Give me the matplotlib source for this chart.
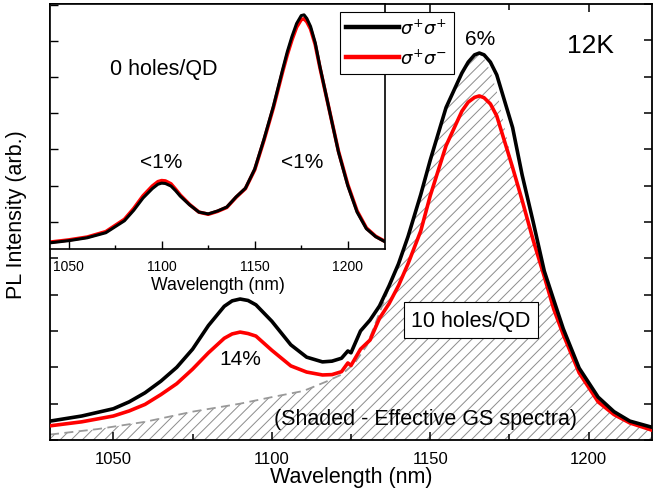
import numpy as np
import matplotlib
matplotlib.use("Agg")
import matplotlib.pyplot as plt
from matplotlib.ticker import MultipleLocator, NullFormatter

plt.rcParams['font.family'] = ['Liberation Sans', 'DejaVu Sans']
plt.rcParams['hatch.linewidth'] = 0.7
plt.rcParams['hatch.color'] = '#8c8c8c'

# main panel: 10 holes/QD
main_wl = [1030, 1040, 1050, 1055, 1060, 1065, 1070, 1075, 1080, 1085, 1087.5,
           1090, 1092.5, 1095, 1100, 1106, 1111, 1116, 1119, 1122, 1124, 1125,
           1128, 1131, 1134, 1137, 1140, 1143, 1147, 1150, 1155, 1160, 1162,
           1164, 1165.5, 1167, 1169, 1171, 1176, 1179, 1182.5, 1186, 1189, 1192,
           1197, 1203, 1208, 1213, 1220]
main_pp = [0.52, 0.66, 0.86, 1.05, 1.30, 1.62, 2.00, 2.50, 3.15, 3.68, 3.83,
           3.88, 3.84, 3.72, 3.27, 2.62, 2.28, 2.15, 2.17, 2.25, 2.45, 2.40,
           3.00, 3.30, 3.69, 4.24, 4.85, 5.60, 6.75, 7.70, 9.15, 10.10, 10.40,
           10.60, 10.65, 10.60, 10.40, 10.05, 8.60, 7.30, 6.00, 4.65, 3.85, 3.06,
           1.98, 1.18, 0.78, 0.52, 0.35]
main_pm = [0.39, 0.50, 0.66, 0.80, 0.98, 1.25, 1.55, 1.95, 2.40, 2.80, 2.92,
           2.97, 2.93, 2.86, 2.47, 2.04, 1.87, 1.79, 1.80, 1.88, 2.12, 2.05,
           2.50, 2.75, 3.35, 3.75, 4.25, 4.85, 5.75, 6.72, 8.10, 9.05, 9.30,
           9.43, 9.47, 9.42, 9.25, 8.92, 7.50, 6.60, 5.50, 4.50, 3.60, 2.90,
           1.85, 1.05, 0.70, 0.47, 0.27]

# effective GS spectrum (shaded)
gs_wl = [1030, 1045, 1060, 1075, 1090, 1100, 1110, 1117, 1122, 1126, 1130,
         1134, 1137, 1140, 1143, 1147, 1150, 1155, 1160, 1162, 1164, 1165.5,
         1167, 1169, 1171, 1176, 1179, 1182.5, 1186, 1189, 1192, 1197, 1203,
         1208, 1213, 1220]
gs_val = [0.15, 0.30, 0.50, 0.78, 1.00, 1.18, 1.35, 1.60, 1.80, 2.10, 2.60,
          3.50, 4.20, 4.85, 5.60, 6.75, 7.70, 9.15, 10.10, 10.40, 10.58, 10.60,
          10.50, 10.15, 9.60, 7.60, 6.60, 5.50, 4.50, 3.60, 2.90, 1.85, 1.05,
          0.70, 0.47, 0.27]

# inset: 0 holes/QD
ins_wl = [1040, 1050, 1060, 1070, 1080, 1085, 1090, 1095, 1098, 1100, 1102,
          1105, 1107.5, 1110, 1115, 1120, 1125, 1130, 1135, 1140, 1145, 1150,
          1155, 1160, 1165, 1167.5, 1170, 1172.5, 1175, 1176.5, 1178, 1180,
          1182.5, 1185, 1190, 1195, 1200, 1205, 1210, 1215, 1220]
ins_pp = [-0.58, -0.52, -0.44, -0.30, 0.03, 0.32, 0.66, 0.92, 1.04, 1.07, 1.06,
          0.99, 0.86, 0.71, 0.47, 0.27, 0.22, 0.30, 0.41, 0.69, 0.93, 1.46,
          2.29, 3.19, 4.21, 4.70, 5.12, 5.48, 5.70, 5.72, 5.62, 5.40,
          4.95, 4.30, 3.11, 1.93, 1.00, 0.27, -0.19, -0.41, -0.55]
ins_pm = [-0.56, -0.50, -0.42, -0.27, 0.07, 0.37, 0.72, 0.99, 1.11, 1.14, 1.13,
          1.05, 0.90, 0.74, 0.48, 0.27, 0.21, 0.29, 0.40, 0.68, 0.92, 1.44,
          2.26, 3.15, 4.15, 4.62, 5.03, 5.38, 5.59, 5.61, 5.53, 5.33,
          4.90, 4.27, 3.11, 1.95, 1.03, 0.30, -0.17, -0.40, -0.54]

fig = plt.figure(figsize=(6.61, 4.89), dpi=100)
W, H = 661.0, 489.0
ax = fig.add_axes([50/W, 1-441/H, 602/W, 436/H])

ax.fill_between(gs_wl, 0, gs_val, facecolor='none', edgecolor='#8c8c8c',
                hatch='///', linewidth=0, zorder=1)
gs_wl_a = np.array(gs_wl)
sel = gs_wl_a <= 1137
ax.plot(gs_wl_a[sel], np.array(gs_val)[sel], color='#999999', lw=1.3,
        dashes=(5, 3), zorder=2)
l1, = ax.plot(main_wl, main_pp, color='black', lw=2.6, zorder=4,
              label=r'$\sigma^{+}\sigma^{+}$')
l2, = ax.plot(main_wl, main_pm, color='#ff0000', lw=2.6, zorder=3,
              label=r'$\sigma^{+}\sigma^{-}$')

ax.set_xlim(1030, 1220)
ax.set_ylim(0, 12)
ax.xaxis.set_major_locator(MultipleLocator(50))
ax.xaxis.set_minor_locator(MultipleLocator(25))
ax.yaxis.set_major_locator(MultipleLocator(1))
ax.yaxis.set_major_formatter(NullFormatter())
ax.tick_params(which='both', direction='in', top=True, right=True, width=1.1)
ax.tick_params(which='major', length=6, labelsize=12, pad=8)
ax.tick_params(which='minor', length=4)
for s in ax.spines.values():
    s.set_linewidth(1.3)
ax.set_xlabel('Wavelength (nm)', fontsize=15.5, labelpad=0)
fig.text(17/W, 1-215/H, 'PL Intensity (arb.)', rotation=90, fontsize=15.5,
         ha='center', va='center')

ax.text(1165.7, 11.04, '6%', fontsize=15, ha='center', va='center')
ax.text(1200.5, 10.87, '12K', fontsize=19, ha='center', va='center')
ax.text(1090, 2.23, '14%', fontsize=15, ha='center', va='center')
ax.text(1162.9, 3.30, '10 holes/QD', fontsize=15.5, ha='center', va='center',
        zorder=6, bbox=dict(boxstyle='square,pad=0.35', facecolor='white',
                            edgecolor='black', linewidth=0.8))
ax.text(1148.4, 0.58, '(Shaded - Effective GS spectra)', fontsize=15.5,
        ha='center', va='center', zorder=5)

# inset
ins = fig.add_axes([50/W, 1-250/H, 335/W, 245/H])
ins.set_facecolor('white')
ins.plot(ins_wl, ins_pm, color='#ff0000', lw=2.6)
ins.plot(ins_wl, ins_pp, color='black', lw=2.2)
ins.set_xlim(1040, 1220)
ins.set_ylim(-0.75, 6.02)
ins.xaxis.set_major_locator(MultipleLocator(50))
ins.xaxis.set_minor_locator(MultipleLocator(25))
ins.yaxis.set_major_locator(MultipleLocator(1))
ins.yaxis.set_major_formatter(NullFormatter())
ins.tick_params(which='both', direction='in', width=1.0)
ins.tick_params(which='major', length=6, labelsize=10, pad=7)
ins.tick_params(which='minor', length=3)
for s in ins.spines.values():
    s.set_linewidth(1.2)
ins.set_xlabel('Wavelength (nm)', fontsize=12.7, labelpad=2)
ins.text(1101.3, 4.23, '0 holes/QD', fontsize=15.5, ha='center', va='center')
ins.text(1099.6, 1.66, '<1%', fontsize=15, ha='center', va='center')
ins.text(1175.4, 1.66, '<1%', fontsize=15, ha='center', va='center')

leg = fig.legend(handles=[l1, l2], loc='upper left',
                 bbox_to_anchor=(340/W, 1-13/H), fontsize=13,
                 handlelength=2.9, handletextpad=0.1, borderpad=0.35,
                 labelspacing=0.6, fancybox=False, framealpha=1,
                 edgecolor='black', borderaxespad=0)
leg.get_frame().set_linewidth(0.8)
for h in leg.get_lines():
    h.set_linewidth(3.2)

fig.savefig('out.png', dpi=100)
